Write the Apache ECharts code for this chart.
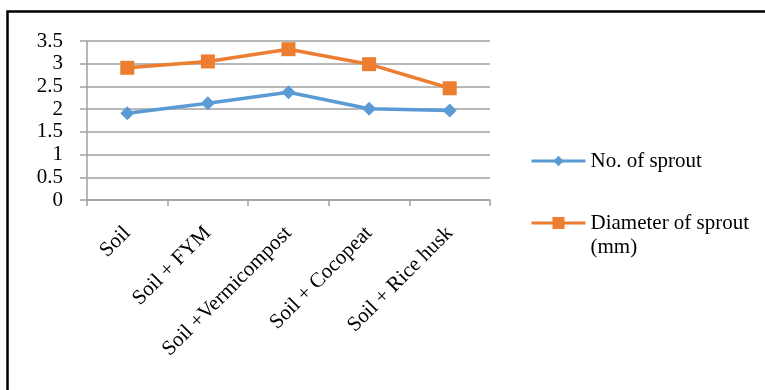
<!DOCTYPE html>
<html>
<head>
<meta charset="utf-8">
<script src="https://cdn.jsdelivr.net/npm/echarts@6/dist/echarts.min.js"></script>
<style>
  html, body { margin: 0; padding: 0; background: #fff; }
  #chart { width: 765px; height: 390px; }
</style>
</head>
<body>
<div id="chart"></div>
<script>
// Growing media treatments
const categories = ['Soil', 'Soil + FYM', 'Soil +Vermicompost', 'Soil + Cocopeat', 'Soil + Rice husk'];
// Mean number of sprouts per treatment
const sproutCount = [1.91, 2.13, 2.37, 2.01, 1.97];
// Mean sprout diameter (mm) per treatment
const sproutDiameter = [2.91, 3.05, 3.32, 2.99, 2.46];
const yTicks = { min: 0, max: 3.5, interval: 0.5 };

const FONT = 'Liberation Serif';
const FONT_SIZE = 21;
const BLUE = '#5B9BD5';
const ORANGE = '#ED7D31';
const GRID_GREY = '#A0A0A0';

const chart = echarts.init(document.getElementById('chart'), null, { renderer: 'canvas' });

chart.setOption({
  backgroundColor: '#fff',
  animation: false,
  textStyle: { fontFamily: FONT, color: '#000' },
  grid: { left: 87, right: 275, top: 41, bottom: 190, containLabel: false },
  xAxis: {
    type: 'category',
    data: categories,
    boundaryGap: true,
    axisLine: { lineStyle: { color: GRID_GREY, width: 1.5 } },
    axisTick: { show: true, length: 6, alignWithLabel: false, lineStyle: { color: GRID_GREY, width: 1.5 } },
    axisLabel: { rotate: 45, margin: 30, fontFamily: FONT, fontSize: FONT_SIZE, color: '#000', interval: 0 }
  },
  yAxis: {
    type: 'value',
    min: yTicks.min,
    max: yTicks.max,
    interval: yTicks.interval,
    axisLine: { show: true, lineStyle: { color: GRID_GREY, width: 1.5 } },
    axisTick: { show: true, length: 7, lineStyle: { color: GRID_GREY, width: 1.5 } },
    splitLine: { show: true, lineStyle: { color: GRID_GREY, width: 1.5 } },
    axisLabel: { margin: 24, fontFamily: FONT, fontSize: FONT_SIZE, color: '#000' }
  },
  legend: [
    {
      orient: 'vertical',
      left: 530,
      top: 149,
      padding: 0,
      itemWidth: 54,
      itemHeight: 13,
      lineStyle: { width: 3 },
      data: ['No. of sprout'],
      textStyle: { fontFamily: FONT, fontSize: FONT_SIZE, color: '#000', lineHeight: 24 }
    },
    {
      orient: 'vertical',
      left: 530,
      top: 187,
      padding: 0,
      itemWidth: 54,
      itemHeight: 15,
      lineStyle: { width: 3 },
      data: ['Diameter of sprout (mm)'],
      // blank first line keeps the marker level with the first text line
      formatter: (name) => '\n' + name.replace(' (mm)', '\n(mm)'),
      textStyle: { fontFamily: FONT, fontSize: FONT_SIZE, color: '#000', lineHeight: 24 }
    }
  ],
  series: [
    {
      name: 'No. of sprout',
      type: 'line',
      data: sproutCount,
      symbol: 'diamond',
      symbolSize: 14,
      lineStyle: { color: BLUE, width: 3.5 },
      itemStyle: { color: BLUE },
      z: 3
    },
    {
      name: 'Diameter of sprout (mm)',
      type: 'line',
      data: sproutDiameter,
      symbol: 'rect',
      symbolSize: 14,
      lineStyle: { color: ORANGE, width: 3.5 },
      itemStyle: { color: ORANGE },
      z: 4
    }
  ],
  graphic: [
    {
      type: 'polyline',
      shape: { points: [[7.5, 390], [7.5, 11.5], [765, 11.5]] },
      style: { stroke: '#000', lineWidth: 2.5, fill: null },
      silent: true
    }
  ]
});
</script>
</body>
</html>
